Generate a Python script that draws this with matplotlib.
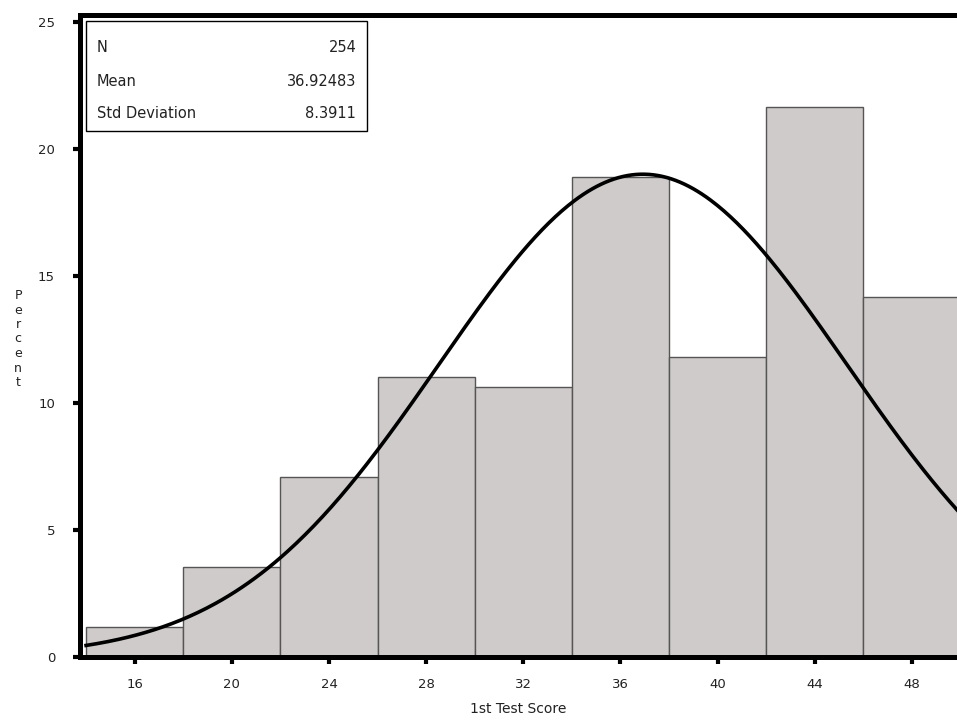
import numpy as np
import matplotlib
matplotlib.use("Agg")
import matplotlib.pyplot as plt
from matplotlib.patches import Rectangle

# histogram data (percent of N per bin, bin width 4)
bin_edges = [14, 18, 22, 26, 30, 34, 38, 42, 46, 50]
percents = [1.18, 3.54, 7.09, 11.02, 10.63, 18.90, 11.81, 21.65, 14.17]
x_ticks = [16, 20, 24, 28, 32, 36, 40, 44, 48]
y_ticks = [0, 5, 10, 15, 20, 25]

n_obs = 254
mean = 36.92483
std = 8.3911

plt.rcParams["font.family"] = ["DejaVu Sans"]

fig = plt.figure(figsize=(9.57, 7.25), dpi=100)
ax = fig.add_axes([0.0836, 0.0938, 1.0 - 0.0836, 0.979 - 0.0938])

lefts = np.array(bin_edges[:-1])
widths = np.diff(bin_edges)
ax.bar(lefts, percents, width=widths, align="edge",
       color="#cfcbcb", edgecolor="#555555", linewidth=1.0, zorder=2)

# fitted normal curve, scaled to percent per bin
xs = np.linspace(bin_edges[0], bin_edges[-1], 400)
pdf = np.exp(-0.5 * ((xs - mean) / std) ** 2) / (std * np.sqrt(2 * np.pi))
ax.plot(xs, 100 * widths[0] * pdf, color="black", linewidth=2.6, zorder=3)

ax.set_xlim(13.75, 49.86)
ax.set_ylim(0, 25.28)
ax.set_xticks(x_ticks)
ax.set_yticks(y_ticks)
ax.tick_params(axis="both", direction="out", length=5, width=3.0,
               labelsize=9.5, color="black", labelcolor="#222222")
ax.tick_params(axis="x", pad=10)
ax.tick_params(axis="y", pad=13)

for side in ["left", "bottom", "top"]:
    ax.spines[side].set_linewidth(3.6)
ax.spines["right"].set_visible(False)

ax.set_xlabel("1st Test Score", fontsize=10, labelpad=8, color="#222222")
fig.text(18 / 957, 1 - 339 / 725, "\n".join("Percent"), fontsize=9,
         ha="center", va="center", linespacing=1.15, color="#222222")

# statistics box
ax.add_patch(Rectangle((0.0068, 0.819), 0.321, 0.172, transform=ax.transAxes,
                       facecolor="white", edgecolor="black", linewidth=1.0, zorder=4))
rows = [("N", f"{n_obs}"), ("Mean", f"{mean:.5f}"), ("Std Deviation", f"{std:.4f}")]
for (lab, val), yy in zip(rows, [0.949, 0.897, 0.847]):
    ax.text(0.0194, yy, lab, transform=ax.transAxes, fontsize=10.5,
            ha="left", va="center", zorder=5, color="#222222")
    ax.text(0.315, yy, val, transform=ax.transAxes, fontsize=10.5,
            ha="right", va="center", zorder=5, color="#222222")

fig.savefig("out.png", dpi=100)
